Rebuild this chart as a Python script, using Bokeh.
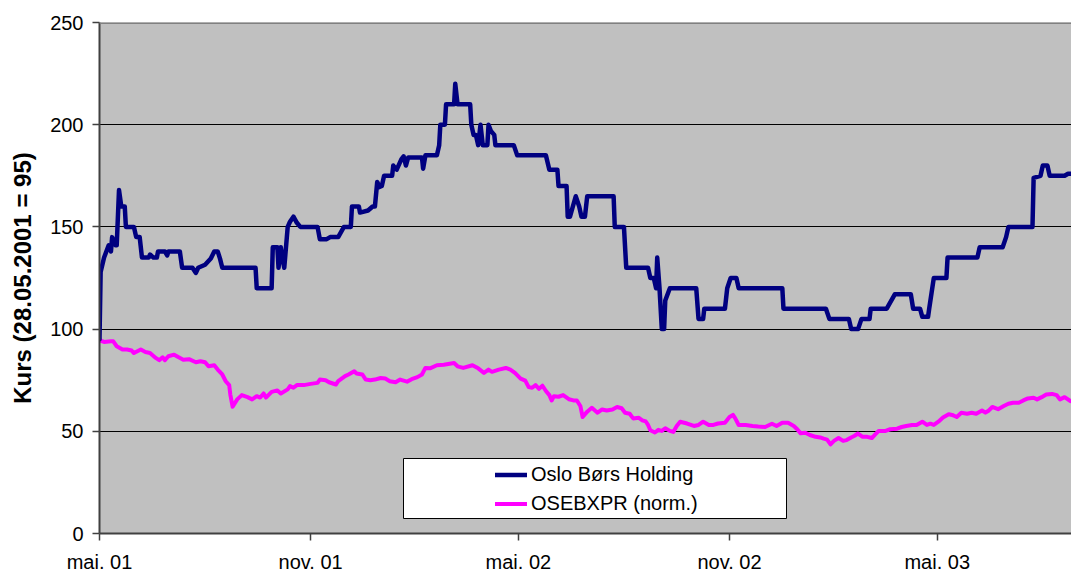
import pandas as pd
from bokeh.plotting import figure
from bokeh.models import (FixedTicker, Range1d, Legend, LegendItem,
                          BoxAnnotation, ColumnDataSource, Span)
from bokeh.embed import file_html
from bokeh.resources import INLINE

# ---------------- data ----------------
start_date = "2001-05-28"   # day 0 of the series

# Oslo Børs Holding: days after 28.05.2001 and price
obh_day = [0, 1, 4, 8, 10, 11, 14, 15, 17, 19, 22, 23, 30, 32, 35, 37, 43, 44, 47, 50,
           51, 57, 59, 60, 70, 72, 81, 84, 86, 92, 97, 100, 103, 105, 107, 136, 137, 150,
           151, 155, 156, 158, 159, 161, 164, 166, 169, 172, 175, 190, 192, 198, 201, 208,
           213, 219, 220, 226, 227, 234, 238, 240, 242, 244, 246, 248, 255, 256, 259, 263,
           265, 267, 269, 281, 282, 284, 294, 296, 297, 301, 302, 309, 310, 312, 323, 324,
           326, 328, 330, 332, 334, 338, 339, 341, 344, 345, 361, 364, 389, 392, 399, 400,
           407, 408, 410, 415, 418, 420, 423, 425, 448, 449, 457, 459, 478, 480, 483, 485,
           486, 488, 490, 492, 493, 497, 520, 522, 526, 527, 545, 547, 550, 555, 557, 595,
           596, 633, 636, 653, 655, 661, 664, 671, 672, 686, 693, 707, 709, 715, 717, 722,
           723, 727, 738, 739, 765, 767, 787, 790, 792, 813, 814, 820, 822, 826, 828, 841,
           844, 847]
obh_kurs = [95, 128, 135, 141, 138, 145, 141, 141, 168, 160, 160, 150, 150, 145, 145, 135,
            135, 136.5, 135, 135, 138, 138, 136, 138, 138, 130, 130, 127.5, 130, 131.5,
            134.5, 138, 138, 134.5, 130, 130, 120, 120, 140, 140, 130, 140, 136, 130, 150,
            152.5, 155, 152, 150, 150, 144, 144, 145, 145, 150, 150, 160, 160, 157, 158,
            160, 160, 172, 169.5, 170, 175, 175, 180, 178, 183, 184.5, 180, 184, 184,
            178.5, 185, 185, 190, 200, 200, 210, 210, 220, 210, 210, 200, 195, 195, 190,
            200, 190, 190, 200, 197, 195, 190, 190, 185, 185, 178, 178, 170, 170, 155, 155,
            165, 160, 155, 155, 165, 165, 150, 150, 130, 130, 125, 125, 120, 135, 120, 100,
            100, 114, 120, 120, 105, 105, 110, 110, 120, 125, 125, 120, 120, 110, 110, 105,
            105, 100, 100, 105, 105, 110, 110, 117, 117, 110, 110, 106, 106, 110, 125, 125,
            135, 135, 140, 140, 145, 150, 150, 174, 175, 180, 180, 175, 175, 176, 176]

# OSEBXPR normalised: days after 28.05.2001 and index level
osebx_day = [0, 1, 4, 10, 12, 15, 20, 24, 28, 30, 36, 40, 44, 49, 52, 55, 57, 60, 65, 69,
             73, 78, 84, 88, 92, 95, 100, 103, 107, 110, 113, 114, 116, 120, 124, 129, 133,
             137, 140, 143, 145, 150, 155, 158, 164, 166, 169, 172, 178, 184, 190, 192, 197,
             200, 206, 208, 214, 217, 222, 224, 229, 232, 236, 240, 245, 249, 253, 258, 262,
             268, 272, 277, 281, 284, 288, 294, 300, 309, 312, 317, 325, 330, 335, 339, 342,
             348, 354, 358, 362, 367, 371, 374, 377, 380, 383, 386, 389, 392, 394, 396, 400,
             404, 409, 413, 416, 419, 421, 425, 429, 434, 438, 442, 447, 451, 455, 458, 462,
             465, 470, 473, 476, 478, 480, 484, 487, 490, 493, 497, 500, 503, 506, 512, 518,
             522, 526, 531, 535, 539, 545, 549, 552, 554, 557, 563, 569, 574, 580, 586, 590,
             595, 600, 605, 608, 611, 615, 619, 624, 628, 631, 634, 637, 640, 644, 648, 651,
             655, 658, 661, 665, 669, 673, 676, 679, 685, 689, 695, 699, 703, 708, 712, 717,
             721, 724, 727, 731, 735, 740, 743, 747, 751, 756, 760, 764, 769, 772, 775, 778,
             783, 788, 792, 796, 801, 805, 809, 814, 817, 821, 825, 830, 834, 837, 841, 846]
osebx_kurs = [95, 94.3, 93.7, 94, 94, 91.6, 90, 90, 89.5, 88.3, 90, 88.8, 88.3, 85.9, 84.8,
              86.2, 84.8, 86.7, 87.5, 86.2, 85, 85.3, 83.8, 84.3, 83.8, 81.8, 82.3, 80.2,
              77.8, 74.5, 72.6, 68, 62, 65.6, 67.7, 66.7, 65.6, 67.2, 66.5, 68.5, 66.5, 69.3,
              70, 68.5, 70.5, 72.1, 71.3, 72.6, 72.6, 73.2, 73.7, 75.3, 75, 74, 72.9, 74.5,
              77, 77.8, 79.4, 78.3, 77.8, 75.3, 75, 75.3, 76.1, 75.8, 74.5, 74, 75.3, 74.3,
              75.5, 76.5, 77.8, 81, 80.8, 82.3, 82.6, 83.4, 81.8, 81, 82.3, 80.8, 78.6, 80.2,
              79.1, 80.2, 81, 80.2, 78.6, 75.8, 74.8, 71.6, 71.3, 72.6, 70.8, 72.3, 69.7,
              67.7, 65.1, 67.2, 66.9, 67.7, 65.7, 65.1, 65.1, 62.4, 57, 59.6, 61.5, 59.1,
              60.7, 60.2, 60.7, 61.9, 61.3, 59.1, 58.6, 56.3, 56.6, 55.4, 54.8, 53.1, 50.5,
              49.4, 50.7, 50.2, 51.5, 50.2, 49.7, 52.6, 54.7, 53.8, 52.6, 53.1, 54.7, 53.1,
              53.1, 53.8, 54.2, 57, 58, 56.3, 53.1, 53.1, 52.6, 52.3, 52.1, 53.7, 52.6, 54.2,
              54.2, 52.6, 51, 49, 49.3, 48.2, 47.3, 47, 46.4, 45.9, 43.6, 45.3, 46.7, 45.3,
              45.7, 47, 47.8, 48.9, 47.3, 47.3, 46.7, 48.5, 50.2, 50.2, 51, 51.3, 52.1, 52.6,
              53.1, 53.1, 54.7, 53.1, 53.7, 53.1, 54.7, 56.7, 58.3, 58, 57, 59.1, 58.6, 59.1,
              58.6, 60.2, 59.1, 60.2, 61.9, 60.8, 62.4, 63.5, 64, 64, 65.1, 66.1, 66.4, 65.6,
              66.7, 68, 68.3, 67.7, 65.6, 66.7, 64.8]

series_names = ["Oslo Børs Holding", "OSEBXPR (norm.)"]
series_colors = ["#000080", "#FF00FF"]

tick_dates = ["2001-05-28", "2001-11-28", "2002-05-28", "2002-11-28", "2003-05-28"]
tick_labels = ["mai. 01", "nov. 01", "mai. 02", "nov. 02", "mai. 03"]
x_end_day = 847
y_ticks = [0, 50, 100, 150, 200, 250]

# ---------------- build ----------------
t0 = pd.Timestamp(start_date)
obh_src = ColumnDataSource(dict(x=t0 + pd.to_timedelta(obh_day, unit="D"), y=obh_kurs))
ose_src = ColumnDataSource(dict(x=t0 + pd.to_timedelta(osebx_day, unit="D"), y=osebx_kurs))

FONT = "Liberation Sans"

p = figure(width=1071, height=575, x_axis_type="datetime",
           x_range=Range1d(t0, t0 + pd.Timedelta(days=x_end_day)),
           y_range=Range1d(0, 250),
           output_backend="svg", toolbar_location=None,
           min_border_left=99, min_border_right=0, min_border_top=22, min_border_bottom=38,
           background_fill_color="#C0C0C0", border_fill_color="white",
           outline_line_color=None)

r2 = p.line("x", "y", source=ose_src, line_color=series_colors[1], line_width=4,
            line_join="round", line_cap="round")
r1 = p.line("x", "y", source=obh_src, line_color=series_colors[0], line_width=4.5,
            line_join="round", line_cap="round")

# plot-area top border (gray, like the reference)
p.add_layout(Span(location=y_ticks[-1], dimension="width",
                  line_color="#808080", line_width=3))

# axes
tick_ms = [pd.Timestamp(d).value // 10**6 for d in tick_dates]
p.xaxis.ticker = FixedTicker(ticks=tick_ms)
p.xaxis.major_label_overrides = {t: lab for t, lab in zip(tick_ms, tick_labels)}
p.yaxis.ticker = FixedTicker(ticks=y_ticks)

for ax in (p.xaxis[0], p.yaxis[0]):
    ax.axis_line_color = "#404040"
    ax.axis_line_width = 2
    ax.major_tick_line_color = "#404040"
    ax.major_tick_line_width = 1.5
    ax.major_tick_in = 0
    ax.major_tick_out = 7
    ax.minor_tick_line_color = None
    ax.major_label_text_font = FONT
    ax.major_label_text_font_size = "20px"
    ax.major_label_text_color = "black"

p.xaxis.major_label_standoff = 10
p.yaxis.major_label_standoff = 9
p.yaxis.axis_label = "Kurs (28.05.2001 = 95)"
p.yaxis.axis_label_text_font = FONT
p.yaxis.axis_label_text_font_style = "bold"
p.yaxis.axis_label_text_font_size = "24px"
p.yaxis.axis_label_text_color = "black"
p.yaxis.axis_label_standoff = 11

p.xgrid.grid_line_color = None
p.ygrid.ticker = FixedTicker(ticks=y_ticks[1:-1])
p.ygrid.grid_line_color = "black"
p.ygrid.grid_line_width = 1

# legend box (white, black border) and legend entries; frame-relative screen units
box = BoxAnnotation(left=304, right=687, top=75, bottom=15,
                    left_units="screen", right_units="screen",
                    top_units="screen", bottom_units="screen",
                    fill_color="white", fill_alpha=1.0,
                    line_color="black", line_width=1, line_alpha=1.0)
p.add_layout(box)

legend = Legend(items=[LegendItem(label=series_names[0], renderers=[r1]),
                       LegendItem(label=series_names[1], renderers=[r2])],
                location=(396, 15), padding=0, margin=0, spacing=0,
                border_line_alpha=0, background_fill_alpha=0,
                glyph_width=32, glyph_height=29, label_height=29, label_standoff=4,
                label_text_font=FONT, label_text_font_size="20px",
                label_text_color="black")
p.add_layout(legend)

open("out.html", "w").write(file_html(p, INLINE))
